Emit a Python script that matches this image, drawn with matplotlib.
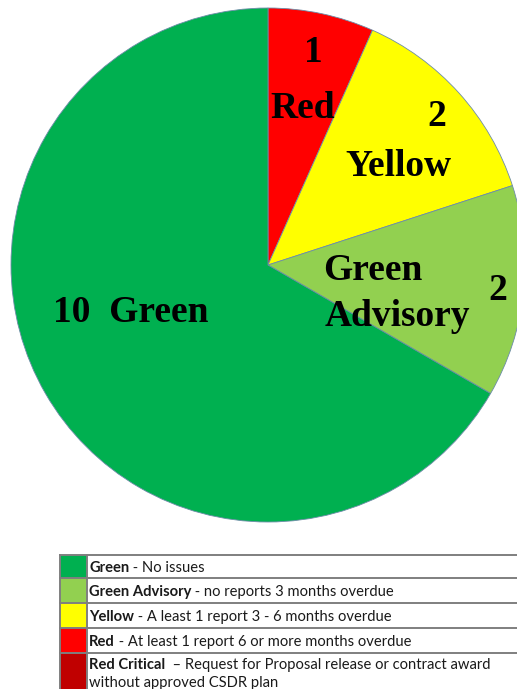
import matplotlib
matplotlib.use("Agg")
import matplotlib.pyplot as plt
from matplotlib.patches import Rectangle

# pie data (clockwise from the top)
slice_names = ["Red", "Yellow", "Green Advisory", "Green"]
slice_counts = [1, 2, 2, 10]
slice_colors = ["#FF0000", "#FFFF00", "#92D050", "#00B050"]

# legend table
legend_colors = ["#00B050", "#92D050", "#FFFF00", "#FF0000", "#C00000"]
legend_bold = ["Green", "Green Advisory", "Yellow", "Red", "Red Critical"]
legend_rest = [" - No issues",
               " - no reports 3 months overdue",
               " - A least 1 report 3 - 6 months overdue",
               " - At least 1 report 6 or more months overdue",
               "  \u2013 Request for Proposal release or contract award"]
legend_extra = "without approved CSDR plan"

W, H = 517, 689
fig = plt.figure(figsize=(W / 100, H / 100), dpi=100)
ax = fig.add_axes([0, 0, 1, 1])
ax.set_xlim(0, W)
ax.set_ylim(H, 0)
ax.axis("off")

# pie in its own axes so y runs upwards
pax = fig.add_axes([0, 0, 1, 1])
cx, cy, r = 268, H - 265, 257
pax.pie(slice_counts, colors=slice_colors, startangle=90, counterclock=False,
        center=(cx, cy), radius=r, frame=True,
        wedgeprops=dict(edgecolor="#6d8ca8", linewidth=0.6))
pax.set_xlim(0, W)
pax.set_ylim(0, H)
pax.set_aspect("equal")
pax.axis("off")

serif = dict(family="Liberation Serif", fontweight="bold", color="black",
             ha="center", va="center")
big = 27
pax.text(313, H - 52, str(slice_counts[0]), fontsize=big, **serif)
pax.text(303, H - 108, slice_names[0], fontsize=big, **serif)
pax.text(437, H - 117, str(slice_counts[1]), fontsize=big, **serif)
pax.text(398, H - 167, slice_names[1], fontsize=big, **serif)
pax.text(373, H - 270, "Green", fontsize=big, **serif)
pax.text(397, H - 316, "Advisory", fontsize=big, **serif)
pax.text(498, H - 290, str(slice_counts[2]), fontsize=big, **serif)
pax.text(131, H - 313, f"{slice_counts[3]}  {slice_names[3]}", fontsize=big, **serif)

# legend table
row_top = [555, 578, 603, 628, 653]
row_bot = [578, 603, 628, 653, 689]
x0, xs = 60, 87
line_c = "#7f7f7f"
for i, c in enumerate(legend_colors):
    ax.add_patch(Rectangle((x0, row_top[i]), xs - x0, row_bot[i] - row_top[i],
                           facecolor=c, edgecolor="none"))
for y in row_top:
    ax.plot([x0, W], [y, y], color=line_c, lw=1.4)
ax.plot([x0, x0], [555, H], color=line_c, lw=1.4)
ax.plot([xs, xs], [555, H], color=line_c, lw=1.4)

fig.canvas.draw()
renderer = fig.canvas.get_renderer()
sans = "Lato"
fs = 10.6
text_y = [572, 596, 621, 646, 669]
for i in range(len(legend_bold)):
    t = ax.text(xs + 2, text_y[i], legend_bold[i], fontsize=fs, family=sans,
                fontweight="bold", va="baseline", ha="left", color="#1a1a1a")
    bb = t.get_window_extent(renderer)
    xr = ax.transData.inverted().transform((bb.x1, bb.y0))[0]
    ax.text(xr, text_y[i], legend_rest[i], fontsize=fs, family=sans,
            va="baseline", ha="left", color="#1a1a1a")
ax.text(xs + 2, 687, legend_extra, fontsize=fs, family=sans,
        va="baseline", ha="left", color="#1a1a1a")

fig.savefig("out.png", dpi=100)
